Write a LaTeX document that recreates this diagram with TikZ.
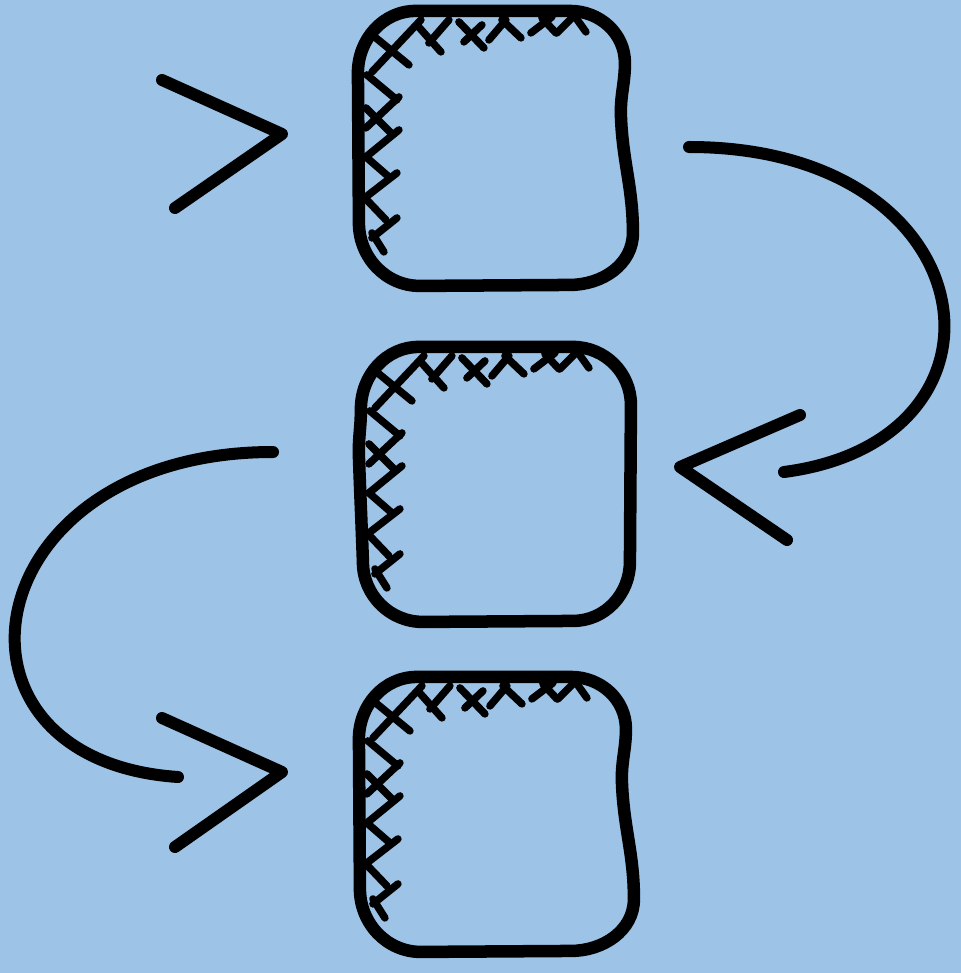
\documentclass[tikz,border=0pt]{standalone}
\usepackage{tikz}
\usepackage{xcolor}
\usetikzlibrary{positioning, calc}
\definecolor{sky}{HTML}{9DC3E6}
\definecolor{ink}{HTML}{000000}

\begin{document}
\begin{tikzpicture}[x=0.01cm, y=-0.01cm,
  card/.style={minimum width=26.8mm, minimum height=27.4mm, inner sep=0pt, outer sep=0pt},
  rim/.style={draw=ink, line width=1.25mm, line join=round},
  hatch/.style={draw=ink, line width=0.75mm, line cap=round},
  arr/.style={draw=ink, line width=1.2mm, line cap=round, line join=round}
]
  \path[use as bounding box, fill=sky] (0,0) rectangle (961,973);

  \node[card] (b1) at (492,148) {};
  \node[card] (b2) at (495,484) {};
  \node[card] (b3) at (493,814) {};

  % hand-drawn outlines
  \foreach \b in {b1,b3}
    \draw[rim, shift={(\b.north west)}] (0,62) to[out=90,in=180] (58,0) -- (212,0)
      to[out=0,in=90] (267,52) to[out=-90,in=92] (263,105) to[out=-88,in=90] (275,222)
      to[out=-90,in=0] (212,274) -- (62,275) to[out=180,in=-90] (1,212) -- cycle;
  \draw[rim, shift={(b2.north west)}] (0,62) to[out=90,in=180] (58,0) -- (212,0)
      to[out=0,in=90] (270,58) -- (269,215) to[out=-90,in=0] (212,274) -- (62,275)
      to[out=180,in=-90] (2,215) to[out=92,in=-88] (-2,110) to[out=92,in=-90] cycle;

  % cross-hatching in the top-left corner of each box
  \foreach \b in {b1,b2,b3} {
    \begin{scope}[shift={(\b.north west)}]
      \foreach \xa/\ya/\xb/\yb in {63/9/14/61, 18/27/51/54, 59/14/83/41, 71/32/91/9,
          101/11/126/37, 106/31/124/14, 131/29/148/9, 144/9/163/27,
          173/22/194/6, 184/7/198/22, 199/22/214/7, 218/7/228/21,
          9/64/39/89, 8/117/41/86, 8/97/33/122, 8/146/41/119,
          8/146/31/166, 8/186/39/162, 6/186/28/209, 14/227/39/207, 14/222/26/241}
        \draw[hatch] (\xa,\ya) -- (\xb,\yb);
    \end{scope}
  }

  \coordinate (t1) at (282,134);
  \coordinate (t2) at (680,467);
  \coordinate (t3) at (282,772);
  \coordinate (s1) at (689,147);
  \coordinate (e1) at (784,472);
  \coordinate (s2) at (273,452);
  \coordinate (e2) at (178,777);

  \draw[arr] (162,80) -- (t1) -- (175,208);
  \draw[arr] (800,415) -- (t2) -- (787,540);
  \draw[arr] (162,718) -- (t3) -- (175,847);

  \draw[arr] (s1) .. controls (989,147) and (1030,440) .. (e1);
  \draw[arr] (s2) .. controls (-27,452) and (-75,760) .. (e2);
\end{tikzpicture}
\end{document}
